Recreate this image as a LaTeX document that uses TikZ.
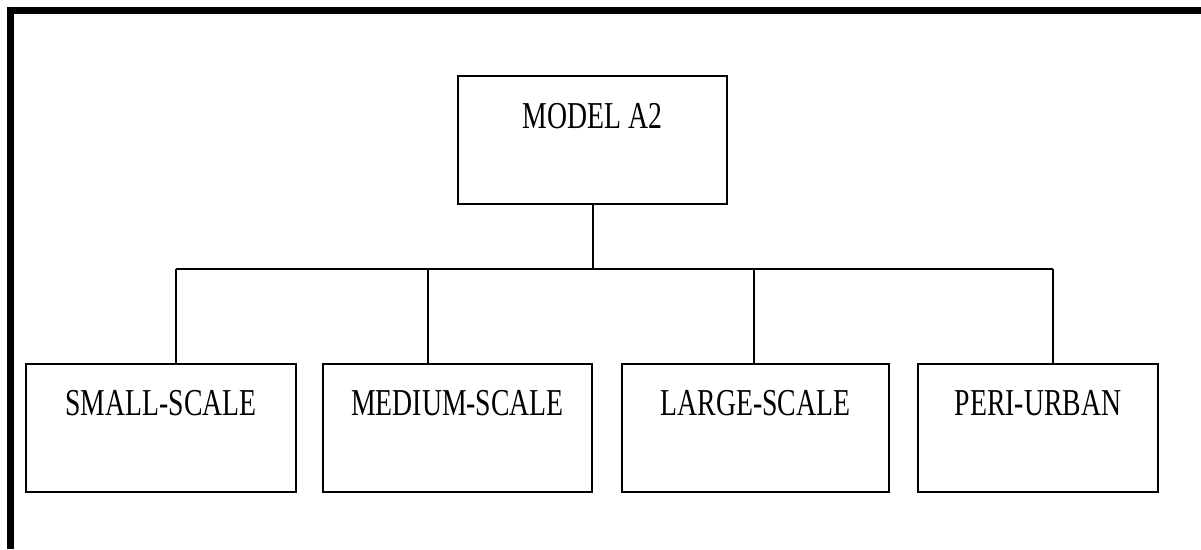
\documentclass[tikz,border=0pt]{standalone}
\usepackage{fontspec}
\setmainfont{Liberation Serif}
\usepackage{graphicx}
\begin{document}
\begin{tikzpicture}[x=1pt,y=-1pt,
  box/.style={draw=black,line width=2.7pt,rectangle,minimum height=128pt,inner sep=0pt},
  lbl/.style={anchor=base,inner sep=0pt,font=\fontsize{38}{40}\selectfont},
  conn/.style={draw=black,line width=2pt}]
\useasboundingbox (0,0) rectangle (1201,549);
\fill[black] (7,7) rectangle (1201,13.5);
\fill[black] (7,7) rectangle (13.5,549);
% boxes
\node[box,minimum width=269pt] (top) at (592.5,140) {};
\node[box,minimum width=270pt] (s) at (161,428) {};
\node[box,minimum width=269pt] (m) at (457.5,428) {};
\node[box,minimum width=267pt] (l) at (755.5,428) {};
\node[box,minimum width=240pt] (p) at (1038,428) {};
% labels
\node[lbl] (ttop) at (592.5,128) {\scalebox{0.73}[1]{MODEL A2}};
\node[lbl] (ts) at (161,415) {\scalebox{0.73}[1]{SMALL-SCALE}};
\node[lbl] (tm) at (457.5,415) {\scalebox{0.73}[1]{MEDIUM-SCALE}};
\node[lbl] (tl) at (755.5,415) {\scalebox{0.73}[1]{LARGE-SCALE}};
\node[lbl] (tp) at (1038,415) {\scalebox{0.73}[1]{PERI-URBAN}};
% bus
\coordinate (d1) at (176,269);
\coordinate (d2) at (428,269);
\coordinate (d3) at (754,269);
\coordinate (d4) at (1053,269);
\draw[conn] (top.south) -- (top.south |- d1);
\draw[conn] (d1) -- (d4);
\draw[conn] (d1) -- (d1 |- s.north);
\draw[conn] (d2) -- (d2 |- m.north);
\draw[conn] (d3) -- (d3 |- l.north);
\draw[conn] (d4) -- (d4 |- p.north);
\end{tikzpicture}
\end{document}
